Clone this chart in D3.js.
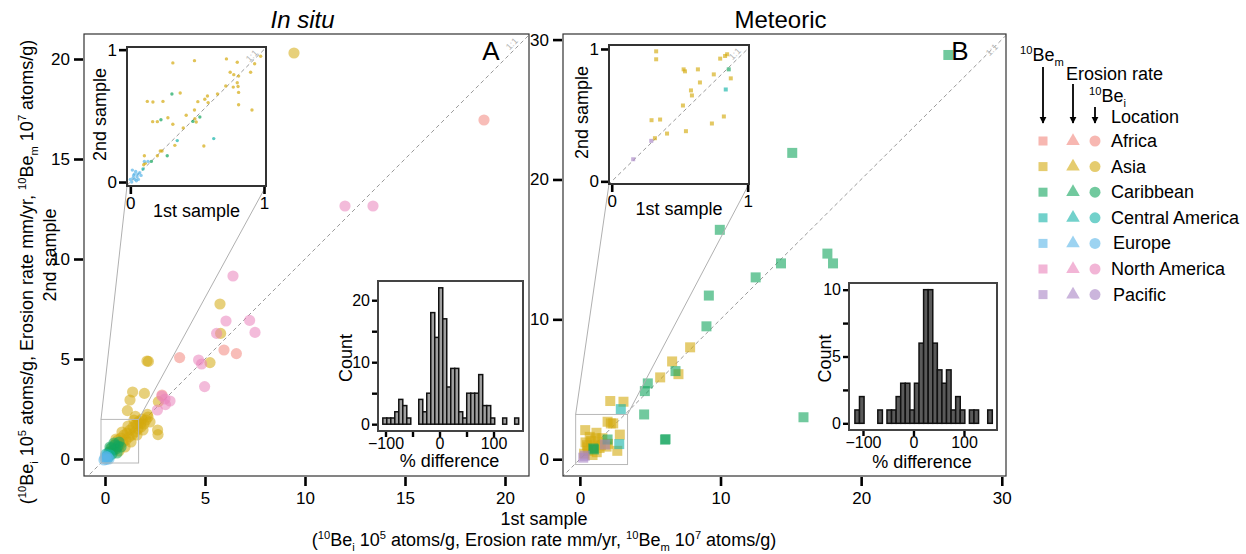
<!DOCTYPE html>
<html lang="en">
<head>
<meta charset="utf-8">
<title>Repeat samples</title>
<script src="https://cdn.jsdelivr.net/npm/d3@7"></script>
<style>
  body { margin: 0; background: #fff; }
  svg { display: block; font-family: "Liberation Sans", Arial, Helvetica, sans-serif; }
</style>
</head>
<body>
<div id="chart"></div>
<script>
var locations = ["Africa", "Asia", "Caribbean", "Central America", "Europe", "North America", "Pacific"];
var locColors = ["#f2877d", "#d4aa0f", "#12a55d", "#14b3a8", "#5ab5e8", "#e983bb", "#a884c4"];

// in situ 10Be, 1st vs 2nd sample  [x, y, location]
var insituPts = [
  [0.25,0.35,"Asia"],[0.35,0.55,"Asia"],[0.45,0.45,"Asia"],[0.5,0.75,"Asia"],[0.6,0.6,"Asia"],[0.65,0.95,"Asia"],
  [0.75,0.7,"Asia"],[0.8,1.05,"Asia"],[0.9,0.85,"Asia"],[0.95,1.2,"Asia"],[1.05,0.95,"Asia"],[1.1,1.3,"Asia"],
  [1.2,1.1,"Asia"],[1.25,1.45,"Asia"],[1.35,1.2,"Asia"],[1.4,1.6,"Asia"],[1.5,1.35,"Asia"],[1.55,1.75,"Asia"],
  [1.65,1.5,"Asia"],[1.7,1.9,"Asia"],[1.8,1.6,"Asia"],[1.85,2.0,"Asia"],[1.95,1.75,"Asia"],[2.05,1.95,"Asia"],
  [2.15,2.1,"Asia"],[1.0,0.6,"Asia"],[0.7,0.4,"Asia"],[1.3,0.85,"Asia"],[0.55,1.0,"Asia"],[0.85,1.35,"Asia"],
  [1.15,1.65,"Asia"],[1.45,1.95,"Asia"],[1.6,1.2,"Asia"],[1.9,1.45,"Asia"],[2.25,1.85,"Asia"],[1.78,1.78,"Asia"],
  [1.65,1.8,"Asia"],[2.12,2.23,"Asia"],[1.52,2.13,"Asia"],[1.12,2.42,"Asia"],[1.25,2.95,"Asia"],[1.38,3.35,"Asia"],
  [1.97,3.28,"Asia"],[2.67,2.87,"Asia"],[2.63,1.45,"Asia"],[2.65,1.22,"Asia"],[2.1,4.9,"Asia"],[2.17,4.88,"Asia"],
  [5.75,7.75,"Asia"],[5.78,6.28,"Asia"],[5.25,4.82,"Asia"],[9.45,20.3,"Asia"],
  [0.2,0.35,"Caribbean"],[0.3,0.55,"Caribbean"],[0.4,0.45,"Caribbean"],[0.5,0.7,"Caribbean"],[0.55,0.5,"Caribbean"],
  [0.65,0.65,"Caribbean"],[0.35,0.25,"Caribbean"],[0.7,0.85,"Caribbean"],[0.45,0.8,"Caribbean"],[0.8,0.6,"Caribbean"],
  [0.25,0.6,"Caribbean"],[0.6,0.3,"Caribbean"],
  [0.1,0.15,"Central America"],[0.15,0.05,"Central America"],[0.25,0.2,"Central America"],[0.05,0.25,"Central America"],
  [-0.05,-0.05,"Europe"],[0.0,0.05,"Europe"],[0.08,-0.02,"Europe"],[0.12,0.1,"Europe"],[0.02,0.15,"Europe"],[0.2,0.0,"Europe"],
  [18.95,16.95,"Africa"],[5.95,5.45,"Africa"],[6.57,5.27,"Africa"],[3.73,5.07,"Africa"],[2.85,3.2,"Africa"],
  [13.4,12.65,"North America"],[12.0,12.65,"North America"],[6.4,9.15,"North America"],[6.05,6.9,"North America"],
  [7.23,6.93,"North America"],[7.5,6.33,"North America"],[5.58,6.28,"North America"],[4.68,4.95,"North America"],
  [4.83,4.75,"North America"],[4.98,3.62,"North America"],[3.0,3.0,"North America"],[3.25,2.9,"North America"],
  [3.02,2.72,"North America"],[2.62,2.45,"North America"],[2.85,3.15,"North America"]
];

// in situ inset, erosion rate 0-1
var insituInset = [
  [0.318,0.90,"Asia"],[0.48,0.917,"Asia"],[0.719,0.93,"Asia"],[0.8,0.905,"Asia"],[0.975,0.95,"Asia"],[0.93,0.894,"Asia"],
  [0.747,0.829,"Asia"],[0.774,0.811,"Asia"],[0.81,0.8,"Asia"],[0.9,0.829,"Asia"],[0.8,0.75,"Asia"],[0.806,0.722,"Asia"],
  [0.77,0.717,"Asia"],[0.714,0.725,"Asia"],[0.81,0.677,"Asia"],[0.652,0.665,"Asia"],[0.577,0.65,"Asia"],[0.557,0.625,"Asia"],
  [0.505,0.607,"Asia"],[0.582,0.6,"Asia"],[0.373,0.672,"Asia"],[0.127,0.609,"Asia"],[0.169,0.604,"Asia"],[0.244,0.609,"Asia"],
  [0.81,0.584,"Asia"],[0.91,0.544,"Asia"],[0.48,0.544,"Asia"],[0.418,0.504,"Asia"],[0.281,0.486,"Asia"],[0.167,0.456,"Asia"],
  [0.202,0.456,"Asia"],[0.318,0.436,"Asia"],[0.483,0.478,"Asia"],[0.493,0.453,"Asia"],[0.396,0.409,"Asia"],[0.333,0.277,"Asia"],
  [0.55,0.272,"Asia"],[0.224,0.234,"Asia"],[0.237,0.234,"Asia"],[0.202,0.198,"Asia"],[0.105,0.198,"Asia"],[0.112,0.141,"Asia"],
  [0.1,0.13,"Asia"],
  [0.311,0.665,"Caribbean"],[0.229,0.471,"Caribbean"],[0.468,0.458,"Caribbean"],[0.52,0.491,"Caribbean"],
  [0.276,0.198,"Caribbean"],[0.157,0.156,"Caribbean"],
  [0.351,0.313,"Central America"],[0.624,0.328,"Central America"],[0.095,0.098,"Central America"],
  [0.105,0.156,"Europe"],[0.132,0.156,"Europe"],[0.02,0.03,"Europe"],[0.03,0.06,"Europe"],[0.05,0.04,"Europe"],
  [0.04,0.08,"Europe"],[0.01,0.0,"Europe"],[0.06,0.02,"Europe"],[0.07,0.07,"Europe"],[0.025,0.05,"Europe"],
  [0.045,0.01,"Europe"],[0.015,0.09,"Europe"],[0.055,0.06,"Europe"],[0.035,0.02,"Europe"],[0.08,0.05,"Europe"],[0.0,0.02,"Europe"]
];

// meteoric 10Be, 1st vs 2nd sample
var meteoricPts = [
  [7.84,8.0,"Asia"],[6.56,6.99,"Asia"],[7.01,6.08,"Asia"],[5.71,5.85,"Asia"],[2.16,4.16,"Asia"],[3.1,4.11,"Asia"],
  [0.38,2.08,"Asia"],[1.18,1.89,"Asia"],[1.97,2.68,"Asia"],[2.2,2.56,"Asia"],[2.37,2.56,"Asia"],[2.84,1.76,"Asia"],
  [2.66,0.6,"Asia"],[0.5,1.0,"Asia"],[0.8,1.3,"Asia"],[1.0,0.9,"Asia"],[1.3,1.2,"Asia"],[1.5,1.0,"Asia"],[0.6,0.6,"Asia"],
  [0.3,0.4,"Asia"],[0.7,1.6,"Asia"],[1.6,1.5,"Asia"],[2.0,1.1,"Asia"],[1.2,0.5,"Asia"],[0.9,0.3,"Asia"],[1.9,0.9,"Asia"],
  [0.4,1.2,"Asia"],[1.1,1.5,"Asia"],[0.55,0.85,"Asia"],[1.4,0.8,"Asia"],
  [26.2,28.9,"Caribbean"],[15.1,21.9,"Caribbean"],[9.95,16.4,"Caribbean"],[12.5,13.0,"Caribbean"],[14.3,14.0,"Caribbean"],
  [17.6,14.7,"Caribbean"],[18.0,14.0,"Caribbean"],[9.17,11.7,"Caribbean"],[9.0,9.5,"Caribbean"],[15.9,3.0,"Caribbean"],
  [6.1,1.43,"Caribbean"],[6.05,1.4,"Caribbean"],[6.8,6.3,"Caribbean"],[4.83,5.42,"Caribbean"],[4.62,4.87,"Caribbean"],
  [4.57,3.2,"Caribbean"],[1.97,1.41,"Caribbean"],[0.95,0.77,"Caribbean"],[1.0,0.7,"Caribbean"],
  [2.91,3.58,"Central America"],[2.8,1.08,"Central America"],
  [0.24,0.11,"Pacific"],[0.35,0.25,"Pacific"],[1.78,1.05,"Pacific"]
];

var meteoricInset = [
  [0.327,0.982,"Asia"],[0.327,0.922,"Asia"],[0.834,0.947,"Asia"],[0.849,0.96,"Asia"],[0.798,0.927,"Asia"],
  [0.529,0.846,"Asia"],[0.539,0.831,"Asia"],[0.634,0.846,"Asia"],[0.751,0.808,"Asia"],[0.876,0.778,"Asia"],
  [0.649,0.747,"Asia"],[0.583,0.687,"Asia"],[0.59,0.649,"Asia"],[0.524,0.573,"Asia"],[0.293,0.462,"Asia"],
  [0.356,0.467,"Asia"],[0.825,0.49,"Asia"],[0.737,0.437,"Asia"],[0.407,0.361,"Asia"],[0.546,0.379,"Asia"],[0.318,0.326,"Asia"],
  [0.861,0.846,"Caribbean"],[0.839,0.694,"Central America"],
  [0.291,0.306,"Pacific"],[0.158,0.167,"Pacific"]
];

// histograms of % difference
var insituBinStart = -105, insituBinWidth = 7.4;
var insituCounts = [1,1,1,2,4,3,1,0,0,4,2,5,18,14,22,17,6,9,9,2,1,5,5,5,8,3,3,1,0,0,1,0,0,1];
var meteoricBinStart = -116, meteoricBinWidth = 9.07;
var meteoricCounts = [1,2,0,0,0,1,0,1,1,2,3,3,1,3,6,10,10,6,4,3,4,1,2,1,0,1,1,0,0,1];

var W = 1246, H = 554, FS = 18, TS = 17;
var color = d3.scaleOrdinal(locations, locColors);

var svg = d3.select("#chart").append("svg")
  .attr("width", W).attr("height", H);
svg.append("rect").attr("width", W).attr("height", H).attr("fill", "#fff");

var defs = svg.append("defs");
var clipN = 0;
function clip(x0, y0, x1, y1) {
  var id = "clip" + (clipN++);
  defs.append("clipPath").attr("id", id).append("rect")
    .attr("x", x0).attr("y", y0).attr("width", x1 - x0).attr("height", y1 - y0);
  return "url(#" + id + ")";
}

// text with super/subscripts: parts = [[text, "n"|"sup"|"sub"], ...]
function rich(t, parts, fs) {
  var shift = 0;
  parts.forEach(function(p) {
    var dy = 0, size = fs;
    if (p[1] == "sup") { dy = -0.38 * fs - shift; shift = -0.38 * fs; size = fs * 0.62; }
    else if (p[1] == "sub") { dy = 0.28 * fs - shift; shift = 0.28 * fs; size = fs * 0.62; }
    else { dy = -shift; shift = 0; }
    t.append("tspan").attr("dy", dy).style("font-size", size + "px").text(p[0]);
  });
}

function oneToOne(g, x, y, lo, hi, cp, lab) {
  g.append("line")
    .attr("x1", x(lo)).attr("y1", y(lo)).attr("x2", x(hi)).attr("y2", y(hi))
    .attr("clip-path", cp)
    .attr("stroke", "#9a9a9a").attr("stroke-width", 1).attr("stroke-dasharray", "4,3");
  g.append("text")
    .attr("transform", "translate(" + lab[0] + "," + lab[1] + ") rotate(-45)")
    .attr("text-anchor", "middle").attr("fill", "#b5b5b5").style("font-size", "9px")
    .text("1:1");
}

function styleAxis(a, w, fs) {
  a.select(".domain").remove();
  a.selectAll(".tick line").attr("stroke", "#000").attr("stroke-width", w);
  a.selectAll(".tick text").attr("fill", "#000").style("font-size", fs + "px")
    .style("font-family", "'Liberation Sans', Arial, sans-serif");
}

function mainPanel(o) {
  var x = d3.scaleLinear().domain(o.xd).range([o.x0, o.x1]);
  var y = d3.scaleLinear().domain(o.yd).range([476, 34]);
  var g = svg.append("g");
  var cp = clip(o.x0, 34, o.x1, 476);

  oneToOne(g, x, y, -2, 40, cp, o.lab);

  var pts = g.append("g").attr("clip-path", cp);
  if (o.shape == "circle") {
    pts.selectAll("circle").data(o.pts).enter().append("circle")
      .attr("cx", function(d) { return x(d[0]); })
      .attr("cy", function(d) { return y(d[1]); })
      .attr("r", 5.6)
      .attr("fill", function(d) { return color(d[2]); })
      .attr("fill-opacity", 0.55);
  } else {
    pts.selectAll("rect").data(o.pts).enter().append("rect")
      .attr("x", function(d) { return x(d[0]) - 5; })
      .attr("y", function(d) { return y(d[1]) - 5; })
      .attr("width", 10).attr("height", 10)
      .attr("fill", function(d) { return color(d[2]); })
      .attr("fill-opacity", 0.6);
  }

  g.append("rect")
    .attr("x", o.x0).attr("y", 34).attr("width", o.x1 - o.x0).attr("height", 442)
    .attr("fill", "none").attr("stroke", "#333").attr("stroke-width", 1.2);

  var gx = g.append("g").attr("transform", "translate(0,477)")
    .call(d3.axisBottom(x).tickValues(o.xt).tickSize(9).tickPadding(6));
  var gy = g.append("g").attr("transform", "translate(" + (o.x0 - 1) + ",0)")
    .call(d3.axisLeft(y).tickValues(o.yt).tickSize(9).tickPadding(4));
  styleAxis(gx, 2.6, TS);
  styleAxis(gy, 2.6, TS);

  g.append("text").attr("x", o.letterX).attr("y", 60).attr("text-anchor", "middle")
    .style("font-size", "26px").text(o.letter);

  g.append("text").attr("x", (o.x0 + o.x1) / 2 - 4).attr("y", 28).attr("text-anchor", "middle")
    .style("font-size", "24px").style("font-style", o.italic ? "italic" : "normal").text(o.title);

  // zoom box
  var r = o.box;
  g.append("rect")
    .attr("x", x(r[0])).attr("y", y(r[3])).attr("width", x(r[1]) - x(r[0])).attr("height", y(r[2]) - y(r[3]))
    .attr("fill", "none").attr("stroke", "#b8b8b8").attr("stroke-width", 1);
  return { x: x, y: y, g: g };
}

function inset(p, o) {
  var x = d3.scaleLinear().domain(o.xd).range([o.x0, o.x1]);
  var y = d3.scaleLinear().domain(o.yd).range([o.y1, o.y0]);
  var g = p.g;
  var r = o.box;
  g.append("line").attr("x1", o.x0).attr("y1", o.y1).attr("x2", p.x(r[0])).attr("y2", p.y(r[3]))
    .attr("stroke", "#b0b0b0").attr("stroke-width", 1);
  g.append("line").attr("x1", o.x1).attr("y1", o.y1).attr("x2", p.x(r[1])).attr("y2", p.y(r[3]))
    .attr("stroke", "#b0b0b0").attr("stroke-width", 1);
  g.append("rect").attr("x", o.x0).attr("y", o.y0).attr("width", o.x1 - o.x0).attr("height", o.y1 - o.y0)
    .attr("fill", "#fff");
  var cp = clip(o.x0, o.y0, o.x1, o.y1);
  oneToOne(g, x, y, -0.1, 1.1, cp, o.lab);

  var pts = g.append("g").attr("clip-path", cp);
  if (o.shape == "circle") {
    pts.selectAll("circle").data(o.pts).enter().append("circle")
      .attr("cx", function(d) { return x(d[0]); })
      .attr("cy", function(d) { return y(d[1]); })
      .attr("r", 1.7)
      .attr("fill", function(d) { return color(d[2]); })
      .attr("fill-opacity", 0.7);
  } else {
    pts.selectAll("rect").data(o.pts).enter().append("rect")
      .attr("x", function(d) { return x(d[0]) - 2; })
      .attr("y", function(d) { return y(d[1]) - 2; })
      .attr("width", 4).attr("height", 4)
      .attr("fill", function(d) { return color(d[2]); })
      .attr("fill-opacity", 0.65);
  }
  g.append("rect").attr("x", o.x0).attr("y", o.y0).attr("width", o.x1 - o.x0).attr("height", o.y1 - o.y0)
    .attr("fill", "none").attr("stroke", "#333").attr("stroke-width", 2);

  var gx = g.append("g").attr("transform", "translate(0," + (o.y1 + 1) + ")")
    .call(d3.axisBottom(x).tickValues([0, 1]).tickSize(7).tickPadding(3).tickFormat(d3.format("d")));
  var gy = g.append("g").attr("transform", "translate(" + (o.x0 - 1) + ",0)")
    .call(d3.axisLeft(y).tickValues([0, 1]).tickSize(7).tickPadding(2).tickFormat(d3.format("d")));
  styleAxis(gx, 2.6, TS);
  styleAxis(gy, 2.6, TS);
  g.append("text").attr("x", (o.x0 + o.x1) / 2).attr("y", o.y1 + 31).attr("text-anchor", "middle")
    .style("font-size", FS + "px").text("1st sample");
  g.append("text").attr("transform", "translate(" + (o.x0 - 21) + "," + ((o.y0 + o.y1) / 2 - 2) + ") rotate(-90)")
    .attr("text-anchor", "middle").style("font-size", FS + "px").text("2nd sample");
}

function hist(o) {
  var x = d3.scaleLinear().domain(o.xd).range([o.x0, o.x1]);
  var y = d3.scaleLinear().domain(o.yd).range([o.y1, o.y0]);
  var g = svg.append("g");
  g.append("rect").attr("x", o.x0).attr("y", o.y0).attr("width", o.x1 - o.x0).attr("height", o.y1 - o.y0)
    .attr("fill", "#fff");
  g.selectAll(".bar").data(o.counts).enter().append("rect")
    .attr("x", function(d, i) { return x(o.start + i * o.width); })
    .attr("width", function(d, i) { return x(o.start + (i + 1) * o.width) - x(o.start + i * o.width); })
    .attr("y", function(d) { return y(d); })
    .attr("height", function(d) { return y(0) - y(d); })
    .attr("fill", o.fill).attr("stroke", "#111").attr("stroke-width", 1.5);
  g.append("rect").attr("x", o.x0).attr("y", o.y0).attr("width", o.x1 - o.x0).attr("height", o.y1 - o.y0)
    .attr("fill", "none").attr("stroke", "#444").attr("stroke-width", 2);

  var gx = g.append("g").attr("transform", "translate(0," + (o.y1 + 1) + ")")
    .call(d3.axisBottom(x).tickValues(o.xt).tickSize(5).tickPadding(1)
      .tickFormat(function(d) { return o.xl.indexOf(d) >= 0 ? d3.format("d")(d).replace("-", "\u2212") : ""; }));
  var gy = g.append("g").attr("transform", "translate(" + (o.x0 - 1) + ",0)")
    .call(d3.axisLeft(y).tickValues(o.yt).tickSize(5).tickPadding(2)
      .tickFormat(function(d) { return o.yl.indexOf(d) >= 0 ? d : ""; }));
  styleAxis(gx, 2.4, 16);
  styleAxis(gy, 2.4, 16);
  g.append("text").attr("x", (o.x0 + o.x1) / 2 - 1).attr("y", o.y1 + o.titleDy).attr("text-anchor", "middle")
    .style("font-size", FS + "px").text("% difference");
  g.append("text").attr("transform", "translate(" + (o.x0 - o.countDx) + "," + ((o.y0 + o.y1) / 2 + 2) + ") rotate(-90)")
    .attr("text-anchor", "middle").style("font-size", FS + "px").text("Count");
}

var pA = mainPanel({
  x0: 84, x1: 529, xd: [-1.05, 21.2], yd: [-0.85, 21.25],
  xt: [0, 5, 10, 15, 20], yt: [0, 5, 10, 15, 20],
  pts: insituPts, shape: "circle", letter: "A", letterX: 491,
  title: "In situ", italic: true, lab: [514, 46], box: [-0.2, 1.68, -0.2, 1.98]
});
inset(pA, {
  x0: 127, x1: 266, y0: 47, y1: 186, xd: [-0.025, 1.015], yd: [-0.03, 1.02],
  pts: insituInset, shape: "circle", lab: [254, 58], box: [-0.2, 1.68, -0.2, 1.98]
});
hist({
  x0: 378, x1: 523, y0: 281, y1: 431, xd: [-113.9, 154.6], yd: [-1.1, 23.1],
  start: insituBinStart, width: insituBinWidth, counts: insituCounts, fill: "#a0a0a0",
  xt: [-100, -50, 0, 50, 100], xl: [-100, 0, 100], yt: [0, 5, 10, 15, 20], yl: [0, 10, 20],
  titleDy: 36, countDx: 26
});

var pB = mainPanel({
  x0: 563, x1: 1006, xd: [-1.2, 30.3], yd: [-1.2, 30.4],
  xt: [0, 10, 20, 30], yt: [0, 10, 20, 30],
  pts: meteoricPts, shape: "square", letter: "B", letterX: 960,
  title: "Meteoric", italic: false, lab: [994, 52], box: [-0.3, 3.39, -0.38, 3.2]
});
inset(pB, {
  x0: 609, x1: 749, y0: 45, y1: 184, xd: [-0.02, 1.01], yd: [-0.02, 1.03],
  pts: meteoricInset, shape: "square", lab: [737, 56], box: [-0.3, 3.39, -0.38, 3.2]
});
hist({
  x0: 849, x1: 997, y0: 283, y1: 430, xd: [-127.7, 165.4], yd: [-0.5, 10.5],
  start: meteoricBinStart, width: meteoricBinWidth, counts: meteoricCounts, fill: "#5a5a5a",
  xt: [-100, 0, 100], xl: [-100, 0, 100], yt: [0, 2.5, 5, 7.5, 10], yl: [0, 5, 10],
  titleDy: 38, countDx: 18
});

// shared axis titles
svg.append("text").attr("transform", "translate(56,255) rotate(-90)")
  .attr("text-anchor", "middle").style("font-size", FS + "px").text("2nd sample");
var ylab2 = svg.append("text").attr("transform", "translate(33,272) rotate(-90)")
  .attr("text-anchor", "middle").style("font-size", FS + "px");
var unitParts = [["(", "n"], ["10", "sup"], ["Be", "n"], ["i", "sub"], [" 10", "n"], ["5", "sup"],
  [" atoms/g, Erosion rate mm/yr, ", "n"], ["10", "sup"], ["Be", "n"], ["m", "sub"], [" 10", "n"], ["7", "sup"], [" atoms/g)", "n"]];
rich(ylab2, unitParts, FS);
svg.append("text").attr("x", 544).attr("y", 525).attr("text-anchor", "middle")
  .style("font-size", FS + "px").text("1st sample");
var xlab2 = svg.append("text").attr("x", 544).attr("y", 546).attr("text-anchor", "middle")
  .style("font-size", FS + "px");
rich(xlab2, unitParts, FS);

// legend
var lg = svg.append("g");
var colX = [1043, 1073, 1095], labX = 1111, rowY0 = 141, rowStep = 25.6;
rich(lg.append("text").attr("x", 1020).attr("y", 61), [["10", "sup"], ["Be", "n"], ["m", "sub"]], FS);
lg.append("text").attr("x", 1066).attr("y", 80).style("font-size", FS + "px").text("Erosion rate");
rich(lg.append("text").attr("x", 1089).attr("y", 102), [["10", "sup"], ["Be", "n"], ["i", "sub"]], FS);
lg.append("text").attr("x", 1111).attr("y", 123).style("font-size", FS + "px").text("Location");
defs.append("marker").attr("id", "arr").attr("viewBox", "0 0 10 10").attr("refX", 9).attr("refY", 5)
  .attr("markerWidth", 4).attr("markerHeight", 4).attr("orient", "auto")
  .append("path").attr("d", "M0,0L10,5L0,10z").attr("fill", "#000");
[[colX[0], 67], [colX[1], 84], [colX[2], 107]].forEach(function(a) {
  lg.append("line").attr("x1", a[0]).attr("x2", a[0]).attr("y1", a[1]).attr("y2", 123)
    .attr("stroke", "#000").attr("stroke-width", 1.8).attr("marker-end", "url(#arr)");
});
var rows = lg.selectAll(".row").data(locations).enter().append("g")
  .attr("transform", function(d, i) { return "translate(0," + (rowY0 + i * rowStep) + ")"; });
rows.append("rect").attr("x", colX[0] - 4.5).attr("y", -4.5).attr("width", 9).attr("height", 9)
  .attr("fill", function(d) { return color(d); }).attr("fill-opacity", 0.6);
rows.append("path").attr("d", d3.symbol(d3.symbolTriangle, 80))
  .attr("transform", "translate(" + colX[1] + ",0)")
  .attr("fill", function(d) { return color(d); }).attr("fill-opacity", 0.6);
rows.append("circle").attr("cx", colX[2]).attr("r", 5.5)
  .attr("fill", function(d) { return color(d); }).attr("fill-opacity", 0.6);
rows.append("text").attr("x", function(d) { return (d == "Europe" || d == "Pacific") ? labX + 2 : labX; })
  .attr("y", 6).style("font-size", FS + "px").text(function(d) { return d; });
</script>
</body>
</html>
